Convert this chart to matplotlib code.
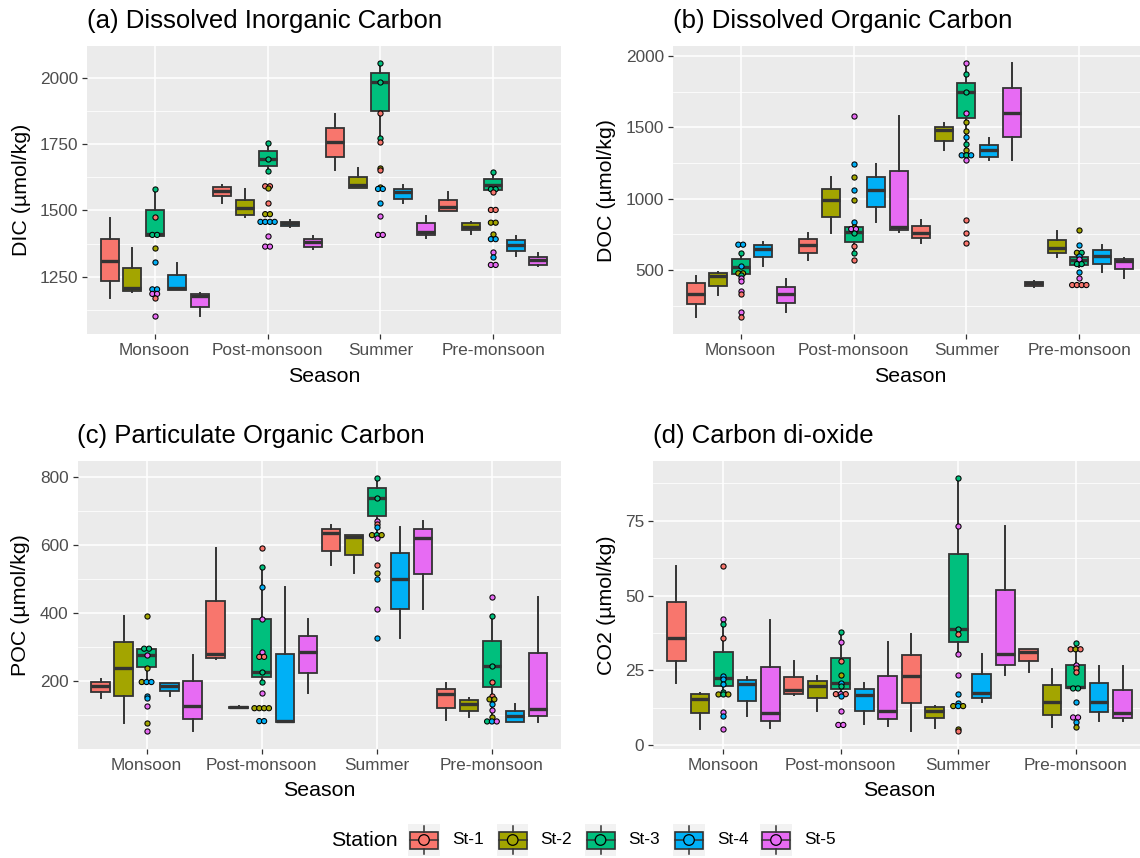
import numpy as np
import matplotlib
matplotlib.use('Agg')
import matplotlib.pyplot as plt
from matplotlib.patches import Rectangle, Circle

plt.rcParams['font.family'] = ['Liberation Sans', 'DejaVu Sans']

# categories
seasons = ['Monsoon', 'Post-monsoon', 'Summer', 'Pre-monsoon']
stations = ['St-1', 'St-2', 'St-3', 'St-4', 'St-5']
station_colors = ['#F8766D', '#A3A500', '#00BF7D', '#00B0F6', '#E76BF3']

# box stats, rows = stations, cols = seasons
# (a) DIC
dic_lo = [[1170, 1527, 1653, 1499], [1192, 1474, 1584, 1412], [1404, 1647, 1757, 1568], [1201, 1439, 1528, 1329], [1101, 1354, 1398, 1291]]
dic_q1 = [[1236, 1555, 1703, 1499], [1198, 1483, 1584, 1427], [1404, 1668, 1876, 1577], [1201, 1443, 1545, 1349], [1138, 1364, 1408, 1295]]
dic_med = [[1308, 1575, 1757, 1514], [1207, 1508, 1594, 1437], [1410, 1693, 1984, 1596], [1207, 1452, 1568, 1371], [1178, 1383, 1420, 1314]]
dic_q3 = [[1392, 1590, 1812, 1540], [1282, 1540, 1625, 1454], [1501, 1722, 2019, 1619], [1256, 1458, 1579, 1389], [1186, 1392, 1452, 1325]]
dic_hi = [[1473, 1594, 1863, 1571], [1358, 1581, 1659, 1458], [1582, 1753, 2054, 1646], [1304, 1464, 1594, 1404], [1191, 1402, 1481, 1341]]

# (b) DOC
doc_lo = [[173, 570, 689, 379], [325, 762, 1339, 593], [411, 621, 1299, 523], [530, 834, 1271, 488], [208, 769, 1271, 444]]
doc_q1 = [[259, 617, 722, 390], [390, 874, 1404, 617], [470, 694, 1563, 535], [589, 944, 1294, 542], [266, 780, 1430, 505]]
doc_med = [[332, 675, 762, 407], [458, 988, 1481, 652], [523, 769, 1748, 570], [647, 1058, 1339, 600], [332, 804, 1600, 566]]
doc_q3 = [[407, 715, 808, 418], [477, 1070, 1505, 710], [575, 799, 1813, 589], [678, 1152, 1376, 640], [383, 1194, 1773, 580]]
doc_hi = [[460, 757, 850, 425], [483, 1152, 1533, 776], [621, 834, 1949, 621], [696, 1243, 1428, 675], [435, 1579, 1949, 582]]

# (c) POC
poc_lo = [[150, 264, 540, 84], [75, 120, 516, 92], [197, 197, 619, 80], [156, 79, 325, 77], [52, 163, 410, 79]]
poc_q1 = [[168, 268, 582, 119], [155, 121, 570, 111], [239, 210, 684, 182], [171, 79, 410, 79], [86, 222, 514, 97]]
poc_med = [[184, 277, 635, 160], [236, 122, 622, 130], [275, 225, 738, 244], [184, 82, 499, 97], [126, 285, 619, 116]]
poc_q3 = [[197, 434, 646, 176], [313, 123, 627, 143], [292, 380, 768, 318], [192, 279, 575, 111], [199, 332, 645, 280]]
poc_hi = [[204, 589, 658, 194], [390, 124, 628, 150], [295, 534, 797, 391], [194, 475, 651, 130], [274, 380, 670, 445]]

# (d) CO2
co2_lo = [[20.6, 16.7, 4.7, 24.5], [5.2, 11.5, 5.6, 6.1], [16.9, 16.9, 30.4, 18.9], [9.7, 6.9, 14.3, 8.0], [5.6, 6.5, 23.4, 8.1]]
co2_q1 = [[28.1, 16.9, 13.9, 28.1], [10.6, 15.6, 8.9, 10.0], [19.7, 18.6, 34.5, 18.9], [14.8, 11.4, 15.6, 11.1], [8.1, 8.6, 26.7, 9.1]]
co2_med = [[35.9, 18.4, 23.2, 31.2], [15.4, 19.8, 11.5, 14.3], [22.5, 20.8, 38.7, 19.3], [20.3, 16.7, 17.5, 14.5], [10.8, 11.4, 30.4, 10.6]]
co2_q3 = [[47.9, 22.8, 30.1, 32.0], [16.9, 21.4, 12.8, 20.0], [31.2, 29.2, 63.9, 26.7], [21.7, 18.6, 23.7, 20.6], [26.2, 23.1, 51.8, 18.5]]
co2_hi = [[59.8, 28.1, 37.0, 32.0], [17.3, 23.2, 13.1, 25.3], [42.0, 37.7, 89.4, 34.0], [22.8, 20.6, 30.3, 26.5], [41.8, 34.5, 73.2, 26.5]]

# dot layer: (station number, value) per season
dic_points = {
    'Monsoon': [(3, 1582), (1, 1476), (3, 1408), (3, 1408), (2, 1359), (4, 1305), (4, 1203), (4, 1203),
                (5, 1186), (5, 1186), (1, 1170), (5, 1101)],
    'Post-monsoon': [(3, 1753), (3, 1693), (3, 1647), (1, 1591), (1, 1591), (2, 1583), (1, 1527), (2, 1486), (2, 1486),
                     (4, 1457), (4, 1457), (4, 1457), (4, 1457), (5, 1404), (5, 1364), (5, 1364)],
    'Summer': [(3, 2054), (3, 1984), (1, 1866), (3, 1772), (1, 1757), (2, 1660), (1, 1652), (2, 1588),
               (4, 1581), (4, 1581), (4, 1528), (5, 1481), (5, 1408), (5, 1408)],
    'Pre-monsoon': [(3, 1646), (3, 1580), (3, 1580), (1, 1570), (1, 1502), (1, 1502), (2, 1454), (2, 1454), (2, 1412),
                    (4, 1392), (4, 1392), (5, 1345), (4, 1326), (5, 1295), (5, 1295)],
}
doc_points = {
    'Monsoon': [(4, 678), (4, 678), (3, 621), (4, 530), (2, 477), (2, 477), (3, 462), (5, 441), (5, 425),
                (5, 352), (1, 332), (5, 208), (1, 173)],
    'Post-monsoon': [(5, 1579), (4, 1243), (2, 1152), (4, 1058), (2, 988), (4, 834), (2, 799), (5, 787), (5, 787),
                     (3, 762), (1, 666), (3, 621), (1, 570)],
    'Summer': [(5, 1949), (3, 1876), (3, 1748), (5, 1600), (2, 1535), (2, 1472), (4, 1430), (3, 1386), (2, 1339),
               (4, 1304), (3, 1304), (4, 1304), (5, 1271), (1, 853), (1, 762), (1, 689)],
    'Pre-monsoon': [(2, 778), (4, 675), (2, 621), (3, 621), (4, 600), (5, 577), (3, 542), (3, 542), (4, 488),
                    (5, 444), (1, 395), (1, 395), (1, 395), (1, 395)],
}
poc_points = {
    'Monsoon': [(2, 391), (3, 294), (3, 294), (5, 275), (2, 236), (2, 196), (4, 196), (4, 196), (4, 156), (4, 150),
                (5, 124), (2, 75), (5, 52)],
    'Post-monsoon': [(1, 591), (3, 534), (4, 476), (5, 381), (5, 285), (1, 270), (1, 270), (3, 225), (3, 196),
                     (5, 163), (2, 119), (2, 119), (2, 119), (2, 119), (4, 81), (4, 81)],
    'Summer': [(3, 797), (3, 738), (5, 671), (1, 660), (4, 651), (2, 628), (3, 628), (2, 628), (5, 619), (1, 540),
               (2, 516), (4, 499), (5, 410), (4, 324)],
    'Pre-monsoon': [(5, 447), (3, 391), (3, 244), (1, 196), (1, 156), (2, 145), (2, 145), (4, 130), (5, 114),
                    (2, 92), (3, 80), (4, 80), (5, 80)],
}
co2_points = {
    'Monsoon': [(1, 60.0), (5, 42.0), (3, 40.4), (1, 35.9), (4, 23.2), (4, 22.1), (4, 20.3), (3, 17.6),
                (2, 16.9), (3, 16.9), (2, 16.9), (5, 10.9), (4, 9.7), (5, 5.2)],
    'Post-monsoon': [(3, 37.7), (5, 34.5), (1, 28.2), (2, 23.4), (4, 20.8), (3, 19.7), (1, 17.0), (5, 17.0), (1, 17.0),
                     (4, 16.4), (5, 11.5), (5, 6.7), (5, 6.7)],
    'Summer': [(3, 89.4), (5, 73.3), (3, 38.7), (1, 37.1), (5, 30.4), (5, 23.4), (4, 17.2), (4, 14.1),
               (2, 13.0), (4, 13.0), (2, 13.0), (2, 5.3), (1, 4.7)],
    'Pre-monsoon': [(3, 34.0), (1, 32.0), (2, 32.0), (1, 32.0), (5, 26.7), (1, 25.6), (1, 24.5), (3, 18.9), (3, 18.9),
                    (4, 14.5), (5, 9.2), (5, 9.2), (4, 7.8), (2, 6.1)],
}

W, H = 1140, 858
grey20 = '#333333'


def px_axes(x0, y0, x1, y1):
    # pixel box (top-left origin) -> figure fraction rect
    return [x0 / W, 1 - y1 / H, (x1 - x0) / W, (y1 - y0) / H]


def draw_panel(ax, lo, q1, med, q3, hi, points, ylim, yticks, yminor):
    ax.set_facecolor('#EBEBEB')
    for k in range(len(stations)):
        stats = []
        pos = []
        for i in range(len(seasons)):
            stats.append(dict(whislo=lo[k][i], q1=q1[k][i], med=med[k][i], q3=q3[k][i],
                              whishi=hi[k][i], fliers=[]))
            pos.append(i + (k - 2) * 0.2)
        ax.bxp(stats, positions=pos, widths=0.16, patch_artist=True, showcaps=False,
               showfliers=False, manage_ticks=False, zorder=3,
               boxprops=dict(facecolor=station_colors[k], edgecolor=grey20, linewidth=1.3),
               medianprops=dict(color=grey20, linewidth=2.4, solid_capstyle='butt'),
               whiskerprops=dict(color=grey20, linewidth=1.4))

    # centred dot stacks at each season
    dot_step = 0.042
    for i, season in enumerate(seasons):
        groups = {}
        for st, v in points[season]:
            groups.setdefault(v, []).append(st)
        for v, sts in groups.items():
            n = len(sts)
            xs = [i + (j - (n - 1) / 2) * dot_step for j in range(n)]
            ax.scatter(xs, [v] * n, s=14, c=[station_colors[s - 1] for s in sts],
                       edgecolors='black', linewidths=0.75, zorder=5)

    ax.set_xlim(-0.6, 3.6)
    ax.set_ylim(*ylim)
    ax.set_xticks(range(len(seasons)))
    ax.set_xticklabels(seasons)
    ax.set_yticks(yticks)
    ax.set_yticks(yminor, minor=True)
    ax.grid(which='major', color='white', linewidth=1.1)
    ax.grid(which='minor', axis='y', color='white', linewidth=0.55)
    ax.set_axisbelow(True)
    for sp in ax.spines.values():
        sp.set_visible(False)
    ax.tick_params(which='major', length=3.3, width=0.9, color=grey20, labelcolor='#4D4D4D',
                   labelsize=12.4, pad=3)
    ax.tick_params(which='minor', length=0)


fig = plt.figure(figsize=(11.4, 8.58), dpi=100)

ax_a = fig.add_axes(px_axes(87, 46, 561, 334))
ax_b = fig.add_axes(px_axes(673, 46, 1147, 334))
ax_c = fig.add_axes(px_axes(77.5, 461, 561, 749))
ax_d = fig.add_axes(px_axes(653, 461, 1146, 749))

draw_panel(ax_a, dic_lo, dic_q1, dic_med, dic_q3, dic_hi, dic_points, (1035, 2119),
           [1250, 1500, 1750, 2000], [1125, 1375, 1625, 1875])
draw_panel(ax_b, doc_lo, doc_q1, doc_med, doc_q3, doc_hi, doc_points, (52, 2070),
           [500, 1000, 1500, 2000], [250, 750, 1250, 1750])
draw_panel(ax_c, poc_lo, poc_q1, poc_med, poc_q3, poc_hi, poc_points, (-1, 846),
           [200, 400, 600, 800], [100, 300, 500, 700])
draw_panel(ax_d, co2_lo, co2_q1, co2_med, co2_q3, co2_hi, co2_points, (-1.35, 95),
           [0, 25, 50, 75], [12.5, 37.5, 62.5, 87.5])

# titles and axis titles
titles = ['(a) Dissolved Inorganic Carbon', '(b) Dissolved Organic Carbon',
          '(c) Particulate Organic Carbon', '(d) Carbon di-oxide']
ylabels = ['DIC (µmol/kg)', 'DOC (µmol/kg)', 'POC (µmol/kg)', 'CO2 (µmol/kg)']
for ax, title, ylab, (tx, ty, ylx, xly) in zip(
        [ax_a, ax_b, ax_c, ax_d], titles, ylabels,
        [(87, 21, 22, 376), (673, 21, 606, 376), (77, 436, 21, 790), (653, 436, 606, 790)]):
    bb = ax.get_position()
    fig.text(tx / W, 1 - ty / H, title, fontsize=18.5, ha='left', va='center')
    fig.text(ylx / W, bb.y0 + bb.height / 2, ylab, fontsize=15.4, rotation=90, ha='center', va='center')
    fig.text(bb.x0 + bb.width / 2, 1 - xly / H, 'Season', fontsize=15.4, ha='center', va='center')

# legend along the bottom
ax_leg = fig.add_axes([0, 0, 1, 1], zorder=10)
ax_leg.set_xlim(0, W)
ax_leg.set_ylim(H, 0)
ax_leg.axis('off')
ax_leg.patch.set_alpha(0)
leg_y = 840
ax_leg.text(331, leg_y, 'Station', fontsize=15.4, ha='left', va='center')
key_x = [424, 512.7, 600.5, 689, 776]
key = 31.5
for cx, name, col in zip(key_x, stations, station_colors):
    ax_leg.add_patch(Rectangle((cx - key / 2, leg_y - key / 2), key, key, facecolor='#F2F2F2', edgecolor='none'))
    bh = 17
    ax_leg.plot([cx, cx], [leg_y - key / 2 + 2, leg_y - bh / 2], color=grey20, lw=1.1)
    ax_leg.plot([cx, cx], [leg_y + bh / 2, leg_y + key / 2 - 2], color=grey20, lw=1.1)
    ax_leg.add_patch(Rectangle((cx - 14, leg_y - bh / 2), 28, bh, facecolor=col, edgecolor=grey20, lw=1.2))
    ax_leg.plot([cx - 14, cx + 14], [leg_y, leg_y], color=grey20, lw=1.1)
    ax_leg.add_patch(Circle((cx, leg_y), 5.3, facecolor=col, edgecolor='black', lw=0.9, zorder=4))
    ax_leg.text(cx + key / 2 + 12, leg_y, name, fontsize=12.4, ha='left', va='center')

fig.savefig('out.png', dpi=100)
